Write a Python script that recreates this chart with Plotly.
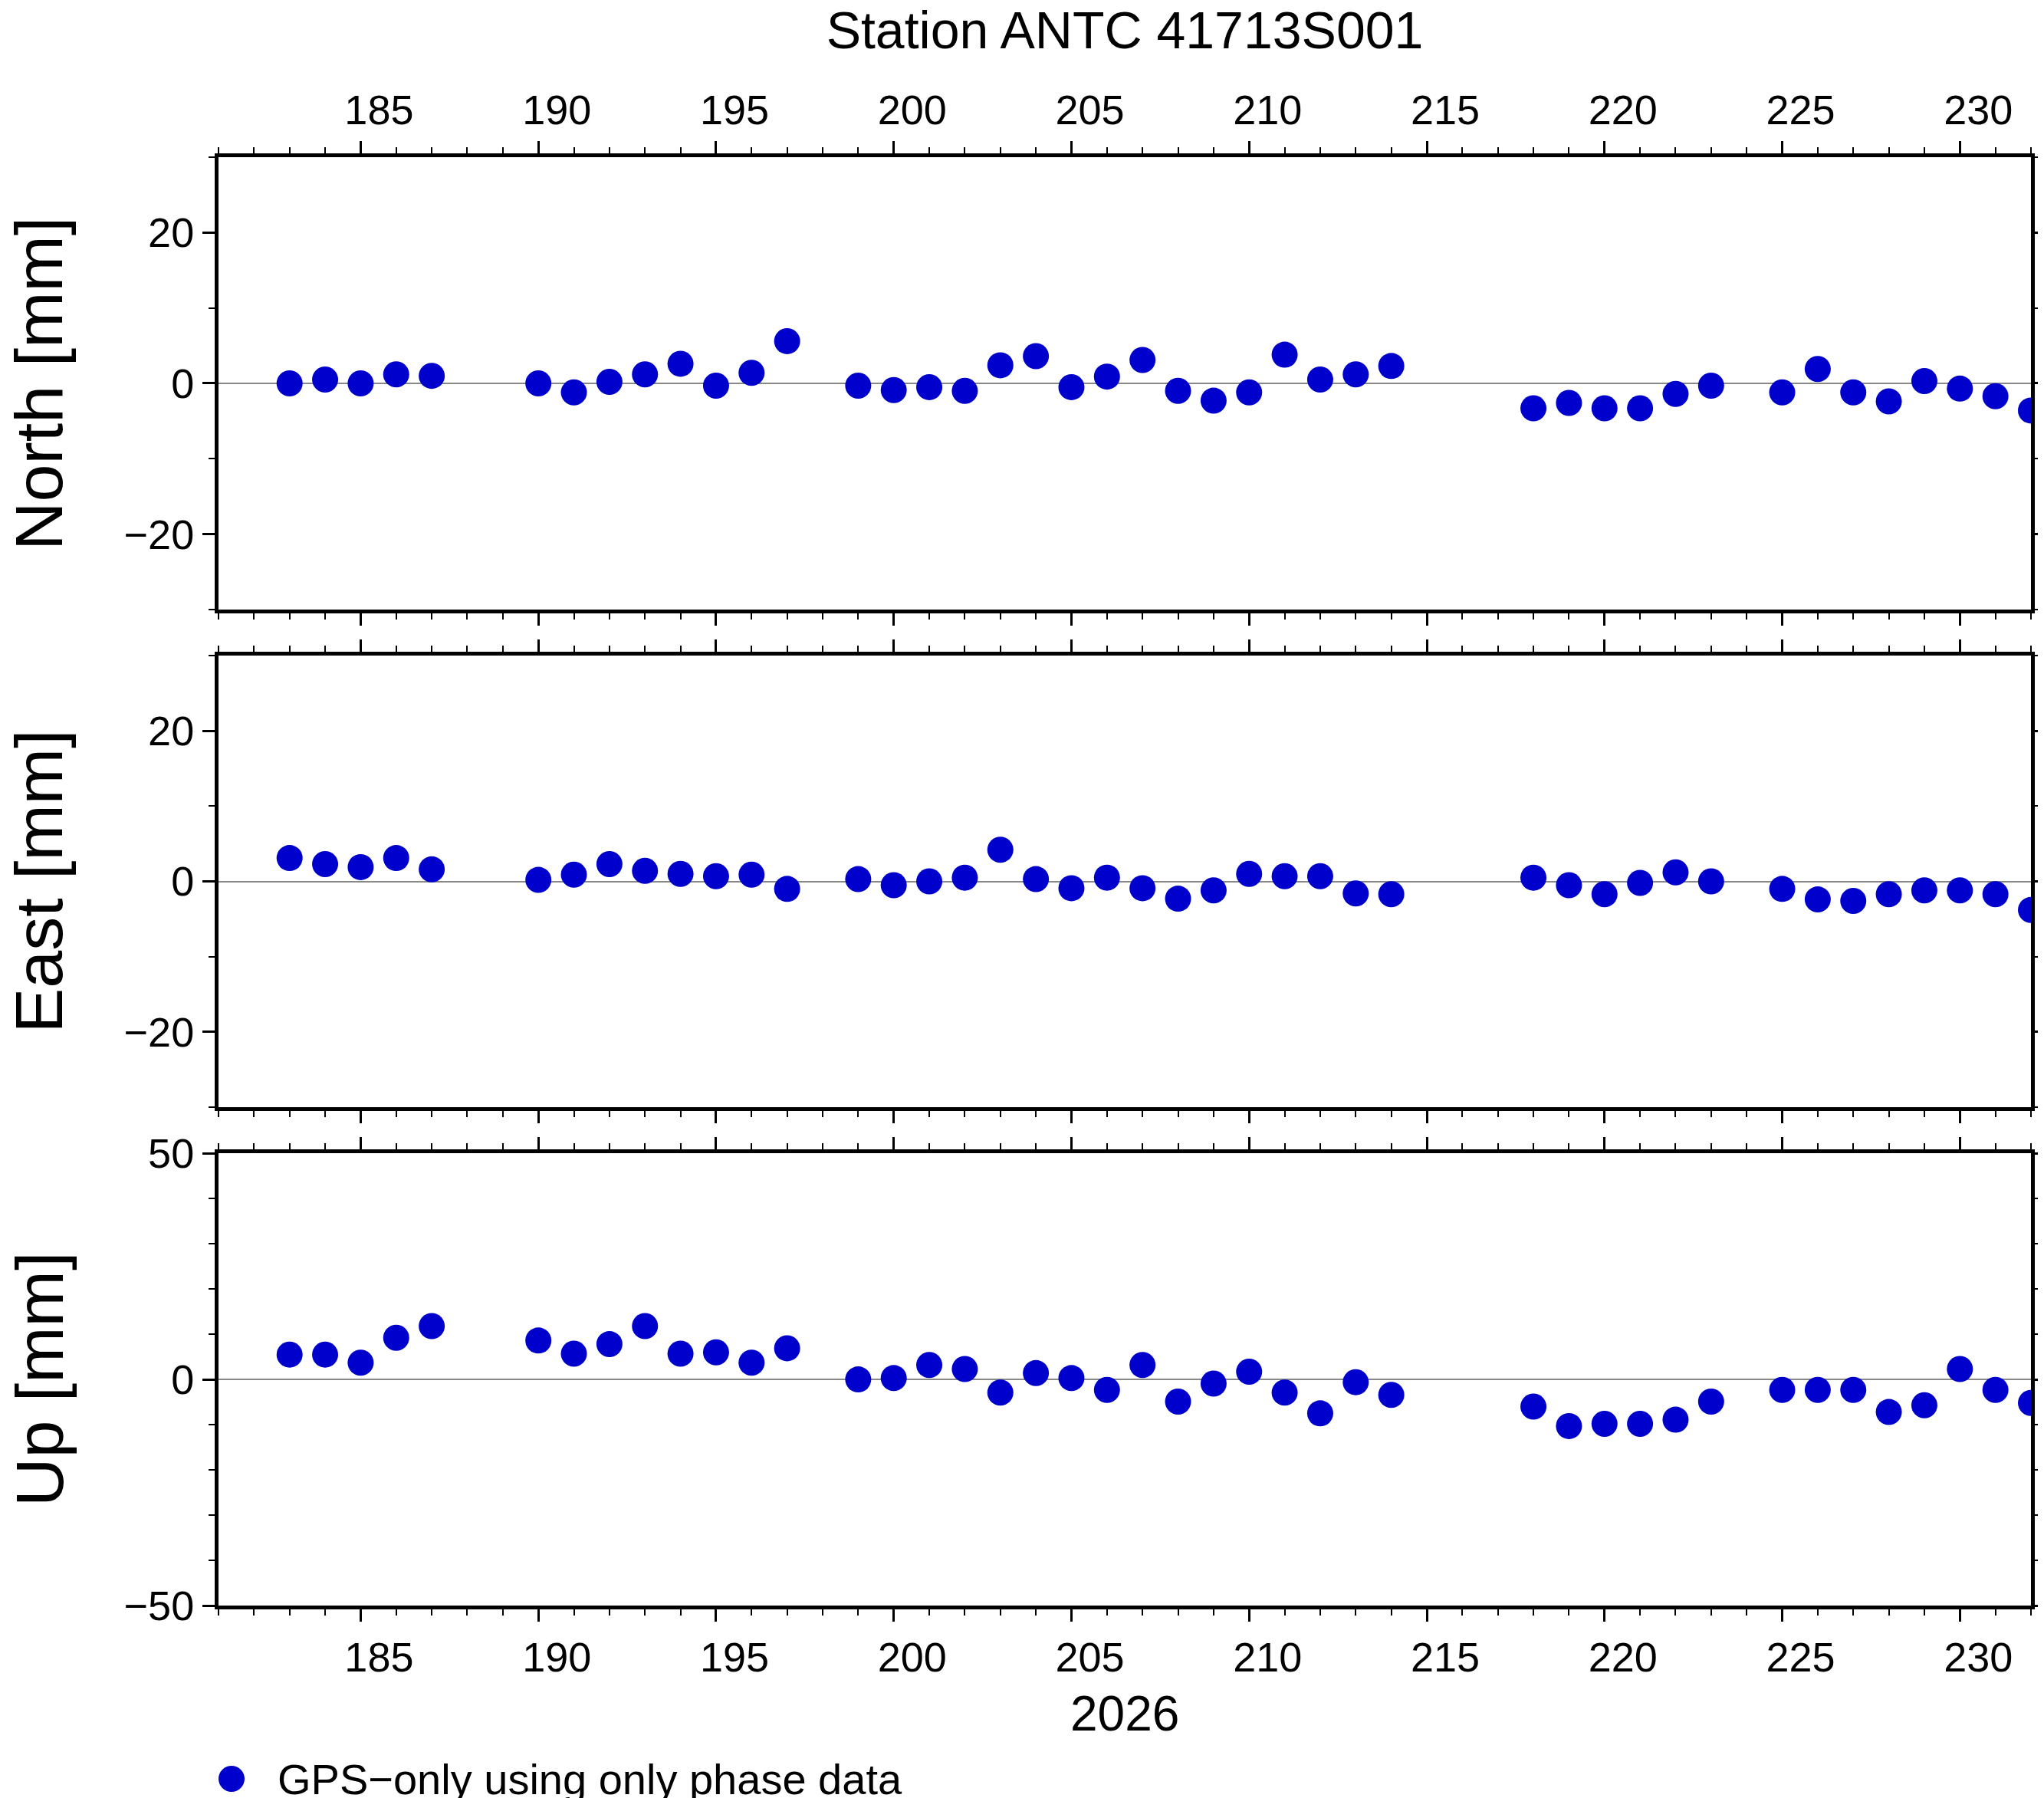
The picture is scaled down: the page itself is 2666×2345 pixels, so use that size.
import plotly.graph_objects as go

days = [183,184,185,186,187,190,191,192,193,194,195,196,197,199,200,201,202,203,204,205,206,207,208,209,210,211,212,213,214,218,219,220,221,222,223,225,226,227,228,229,230,231,232]
north = [0,0.5,0,1.2,1,0,-1.2,0.2,1.2,2.6,-0.3,1.4,5.6,-0.3,-0.9,-0.5,-1,2.4,3.6,-0.5,0.9,3.1,-1,-2.3,-1.2,3.8,0.5,1.2,2.3,-3.3,-2.6,-3.3,-3.3,-1.4,-0.3,-1.2,1.9,-1.2,-2.4,0.3,-0.7,-1.7,-3.6]
east = [3.1,2.3,1.9,3.1,1.6,0.2,0.9,2.3,1.4,1,0.7,0.9,-1,0.3,-0.5,0,0.5,4.2,0.3,-0.9,0.5,-0.9,-2.3,-1.2,1,0.7,0.7,-1.6,-1.7,0.5,-0.5,-1.7,-0.2,1.2,0,-1,-2.4,-2.6,-1.7,-1.2,-1.2,-1.7,-3.8]
up = [5.5,5.5,3.7,9.2,11.8,8.6,5.7,7.8,11.8,5.7,6,3.7,6.9,0,0.3,3.2,2.3,-2.9,1.4,0.3,-2.3,3.2,-4.9,-0.9,1.7,-2.9,-7.5,-0.6,-3.4,-6,-10.3,-9.8,-9.8,-8.9,-4.9,-2.3,-2.3,-2.3,-7.2,-5.7,2.3,-2.3,-5.2]
xticks = [185,190,195,200,205,210,215,220,225,230]
labels = ["North [mm]", "East [mm]", "Up [mm]"]
series_name = "GPS\u2212only using only phase data"

F = "Liberation Sans, Arial, sans-serif"
fig = go.Figure()
doms = [[0.6644,0.916],[0.3876,0.6388],[0.1104,0.362]]
yr = [[-30,30],[-30,30],[-50,50]]
ydt = [20,20,50]
ymin = [10,10,10]
for i,vals in enumerate([north,east,up]):
    n = "" if i==0 else str(i+1)
    fig.add_trace(go.Scatter(x=days,y=vals,mode="markers",xaxis="x"+n,yaxis="y"+n,
        marker=dict(color="#0000cc",size=34),name=series_name,showlegend=False))
    fig.update_layout(**{
        "xaxis"+n: dict(domain=[0,1],range=[181,232],anchor="y"+n,side="top" if i==0 else "bottom",
            tickvals=xticks,ticks="outside",ticklen=16,tickwidth=3,showticklabels=(i!=1),
            ticklabelshift=24,tickfont=dict(size=54,family=F,color="black"),automargin=False,
            showline=True,linewidth=5,linecolor="black",mirror="allticks",showgrid=False,zeroline=False,
            minor=dict(dtick=1,ticks="outside",ticklen=8,tickwidth=2,tickcolor="black"),tickcolor="black"),
        "yaxis"+n: dict(domain=doms[i],range=yr[i],anchor="x"+n,dtick=ydt[i],ticks="outside",ticklen=16,tickwidth=3,
            tickfont=dict(size=54,family=F,color="black"),tickcolor="black",automargin=False,
            showline=True,linewidth=5,linecolor="black",mirror="allticks",showgrid=False,
            zeroline=True,zerolinecolor="#888888",zerolinewidth=2,
            minor=dict(dtick=ymin[i],ticks="outside",ticklen=8,tickwidth=2,tickcolor="black")),
    })
    fig.add_annotation(text=labels[i],xref="paper",yref="paper",x=-0.099,y=sum(doms[i])/2,
        textangle=-90,showarrow=False,font=dict(size=88,family=F,color="black"),xanchor="center",yanchor="middle")

fig.add_annotation(text="2026",xref="paper",yref="paper",x=0.5,y=1-2227/2345,showarrow=False,
    font=dict(size=64,family=F,color="black"),yanchor="middle")
# legend entry
ly = 1-2312/2345
fig.add_shape(type="circle",xref="paper",yref="paper",x0=(294-17-277)/2364,x1=(294+17-277)/2364,
    y0=ly-17/2345,y1=ly+17/2345,fillcolor="#0000cc",line=dict(width=0))
fig.add_annotation(text=series_name,xref="paper",yref="paper",x=(352-277)/2364,y=ly,showarrow=False,
    xanchor="left",yanchor="middle",font=dict(size=56,family=F,color="black"))
fig.update_layout(
    width=2666,height=2345,plot_bgcolor="white",paper_bgcolor="white",
    margin=dict(l=277,r=25,t=0,b=0,autoexpand=False),
    title=dict(text="Station ANTC 41713S001",x=0.5,xref="paper",y=1-31/2345,yanchor="middle",
        font=dict(size=68,family=F,color="black")),
)
fig.write_html("out.html")
